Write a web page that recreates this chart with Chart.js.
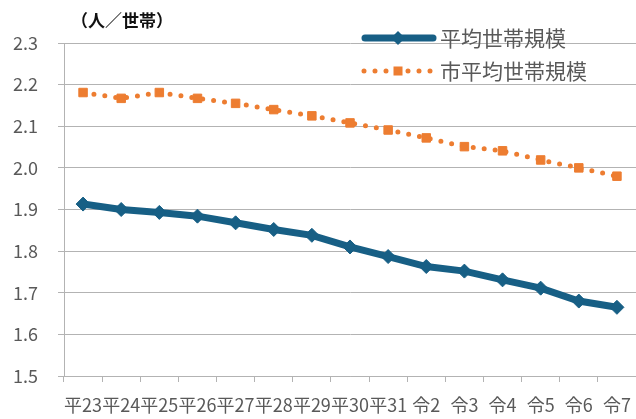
<!DOCTYPE html>
<html>
<head>
<meta charset="utf-8">
<script src="https://cdn.jsdelivr.net/npm/chart.js@4"></script>
<style>
  html, body { margin: 0; padding: 0; background: #ffffff; }
  #wrap { width: 636px; height: 419px; }
</style>
</head>
<body>
<div id="wrap"><canvas id="c" width="636" height="419"></canvas></div>
<script>
const categories = ['平23','平24','平25','平26','平27','平28','平29','平30','平31','令2','令3','令4','令5','令6','令7'];
const avgSize = [1.913,1.900,1.893,1.884,1.868,1.852,1.838,1.810,1.787,1.763,1.752,1.731,1.711,1.680,1.665];
const cityAvgSize = [2.181,2.167,2.181,2.167,2.155,2.140,2.125,2.108,2.091,2.072,2.051,2.041,2.019,2.000,1.980];
const seriesNames = ['平均世帯規模','市平均世帯規模'];
const unitLabel = '（人／世帯）';
const yMin = 1.5, yMax = 2.3, yStep = 0.1;

const FONT = '"Noto Sans CJK JP", "Noto Sans", sans-serif';
const BLUE = '#175f85';
const ORANGE = '#ed7d31';
const GRID = '#b3b3b3';
const TEXT = '#595959';

const overlay = {
  id: 'overlay',
  afterDraw(chart) {
    const ctx = chart.ctx;
    ctx.save();
    // unit title
    ctx.fillStyle = '#111111';
    ctx.font = 'bold 17px ' + FONT;
    ctx.textBaseline = 'middle';
    ctx.textAlign = 'left';
    ctx.fillText(unitLabel, 71, 21);

    // legend item 1: thick blue line with diamond
    ctx.strokeStyle = BLUE;
    ctx.lineWidth = 7;
    ctx.lineCap = 'round';
    ctx.beginPath();
    ctx.moveTo(365, 38);
    ctx.lineTo(433, 38);
    ctx.stroke();
    ctx.fillStyle = BLUE;
    ctx.beginPath();
    ctx.moveTo(398, 31); ctx.lineTo(405, 38); ctx.lineTo(398, 45); ctx.lineTo(391, 38);
    ctx.closePath();
    ctx.fill();

    // legend item 2: dotted orange line with square
    ctx.strokeStyle = ORANGE;
    ctx.lineWidth = 5;
    ctx.setLineDash([0, 11]);
    ctx.beginPath();
    ctx.moveTo(364, 71);
    ctx.lineTo(434, 71);
    ctx.stroke();
    ctx.setLineDash([]);
    ctx.fillStyle = ORANGE;
    ctx.fillRect(393.5, 66.5, 9, 9);

    ctx.fillStyle = TEXT;
    ctx.font = '21px ' + FONT;
    ctx.fillText(seriesNames[0], 440, 38);
    ctx.fillText(seriesNames[1], 440, 71);
    ctx.restore();
  }
};

new Chart(document.getElementById('c'), {
  type: 'line',
  data: {
    labels: categories,
    datasets: [
      {
        label: seriesNames[0],
        data: avgSize,
        borderColor: BLUE,
        backgroundColor: BLUE,
        borderWidth: 7,
        pointStyle: 'rectRot',
        pointRadius: 7,
        pointBorderWidth: 1,
        pointBackgroundColor: BLUE,
        pointBorderColor: BLUE,
        tension: 0,
        order: 1
      },
      {
        label: seriesNames[1],
        data: cityAvgSize,
        borderColor: ORANGE,
        backgroundColor: ORANGE,
        borderWidth: 5,
        borderDash: [0, 11],
        borderCapStyle: 'round',
        pointStyle: 'rect',
        pointRadius: 6,
        pointBorderWidth: 1,
        pointBackgroundColor: ORANGE,
        pointBorderColor: ORANGE,
        tension: 0,
        order: 2
      }
    ]
  },
  options: {
    responsive: false,
    animation: false,
    devicePixelRatio: 1,
    layout: { autoPadding: false, padding: { top: 43, left: 0, right: -4, bottom: 0 } },
    plugins: {
      legend: { display: false },
      tooltip: { enabled: false }
    },
    scales: {
      x: {
        type: 'category',
        offset: true,
        grid: {
          offset: true,
          drawOnChartArea: false,
          drawTicks: true,
          tickLength: 6,
          color: GRID
        },
        border: { display: true, color: GRID, width: 1 },
        ticks: {
          autoSkip: false,
          maxRotation: 0,
          minRotation: 0,
          padding: 12,
          color: TEXT,
          font: { family: FONT, size: 18 }
        },
        afterFit(scale) {
          scale.height = 43;
          scale.paddingLeft = 0;
          scale.paddingRight = 0;
        }
      },
      y: {
        min: yMin,
        max: yMax,
        grid: {
          color: GRID,
          lineWidth: 1,
          drawTicks: true,
          tickLength: 6
        },
        border: { display: true, color: GRID, width: 1 },
        ticks: {
          stepSize: yStep,
          padding: 20,
          color: TEXT,
          font: { family: FONT, size: 18 },
          callback: (v) => Number(v).toFixed(1)
        },
        afterFit(scale) {
          scale.width = 64;
        }
      }
    }
  },
  plugins: [overlay]
});
</script>
</body>
</html>
